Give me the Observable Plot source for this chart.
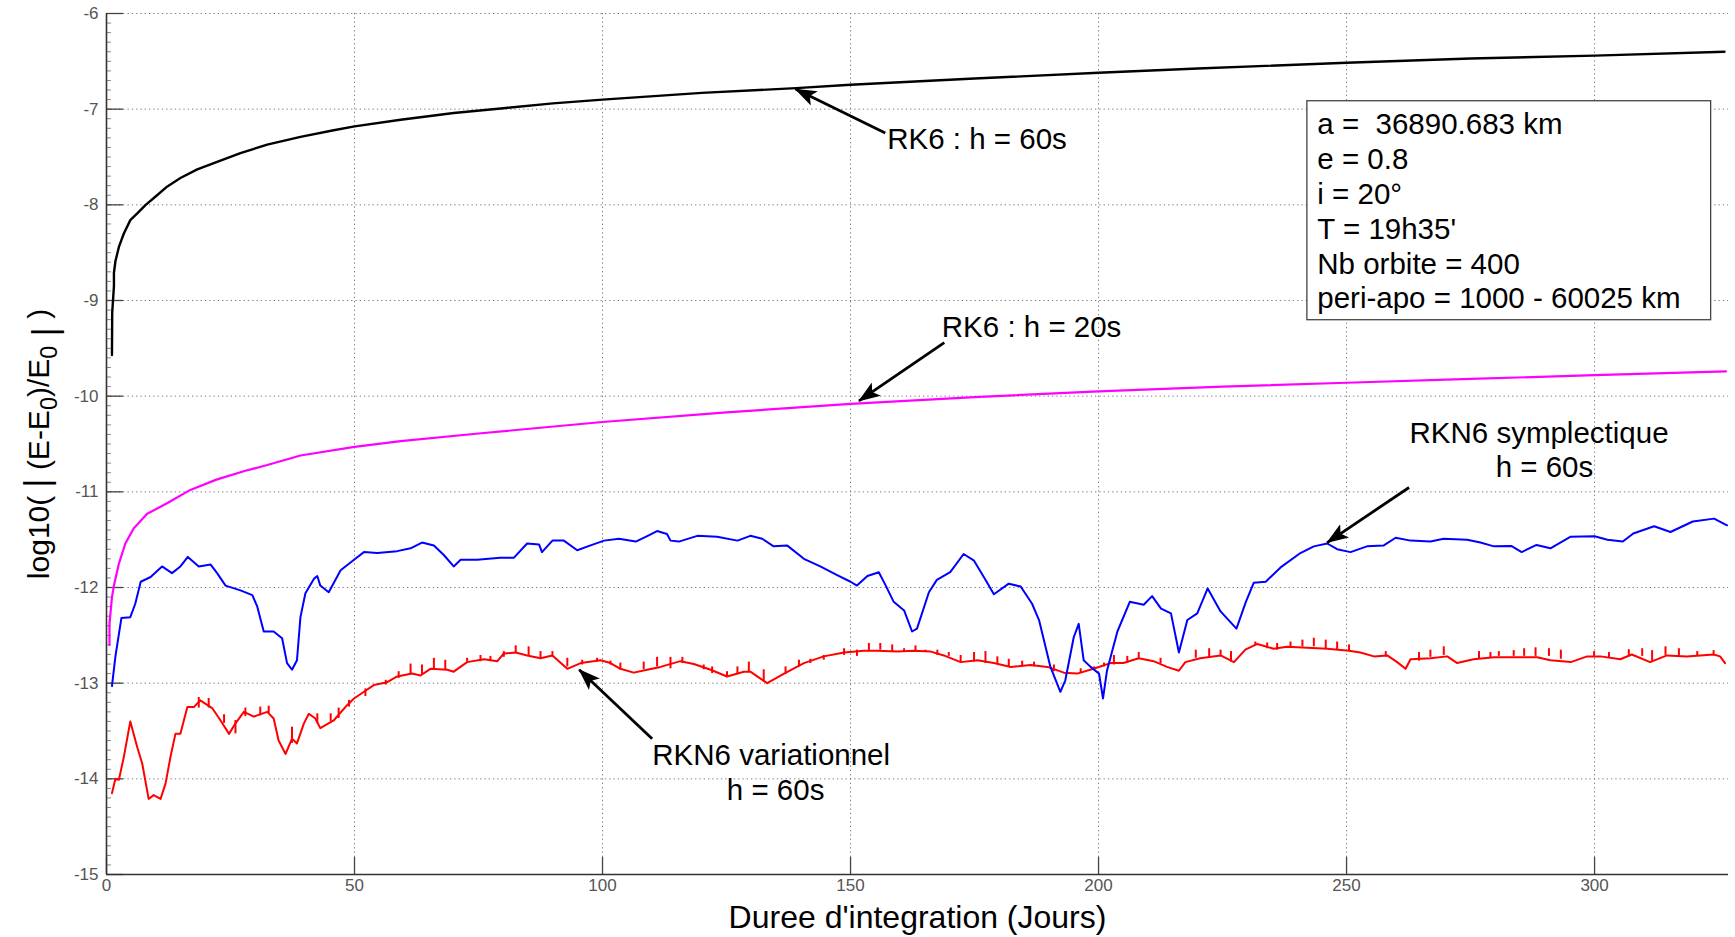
<!DOCTYPE html>
<html><head><meta charset="utf-8">
<script src="https://cdn.jsdelivr.net/npm/d3@7"></script>
<script src="https://cdn.jsdelivr.net/npm/@observablehq/plot@0.6"></script>
<style>html,body{margin:0;padding:0;background:#fff;} svg{display:block}</style>
</head><body><div id="chart"></div>
<script>
const xTicks = [0, 50, 100, 150, 200, 250, 300];
const yTicks = [-15, -14, -13, -12, -11, -10, -9, -8, -7, -6];
const xLabel = "Duree d'integration (Jours)";
const yLabel = "log10( | (E-E0)/E0 | )";

// RK6 : h = 60s (black)
const rk6h60 = [[1.1,-9.57],[1.15,-9.13],[1.5,-8.85],[1.5,-8.71],[1.8,-8.59],[2.5,-8.44],[3.5,-8.30],[4.8,-8.16],[6.2,-8.09],[7.9,-8.00],[10.2,-7.90],[12.2,-7.81],[14.9,-7.72],[18.3,-7.63],[22.3,-7.55],[27,-7.46],[32.4,-7.37],[39.1,-7.29],[45.8,-7.22],[50,-7.18],[59.3,-7.11],[70,-7.04],[80,-6.99],[90,-6.94],[100,-6.9],[120,-6.83],[139,-6.78],[150,-6.745],[175,-6.68],[200,-6.62],[220,-6.575],[250,-6.515],[275,-6.47],[300,-6.44],[326.2,-6.40]];
// RK6 : h = 20s (magenta)
const rk6h20 = [[0.6,-12.60],[0.6,-12.38],[1.1,-12.10],[1.5,-11.98],[2.5,-11.75],[3.8,-11.54],[5.5,-11.38],[8.2,-11.23],[12.2,-11.12],[16.9,-10.98],[22.3,-10.87],[28,-10.78],[32.4,-10.72],[39.1,-10.62],[50,-10.53],[59.3,-10.47],[75,-10.39],[100,-10.27],[125,-10.17],[150,-10.08],[175,-10.01],[200,-9.95],[225,-9.90],[250,-9.86],[275,-9.82],[300,-9.78],[326.5,-9.74]];
// RKN6 symplectique (blue)
const rkn6Sym = [[1.1,-13.03],[1.8,-12.72],[3.0,-12.32],[4.8,-12.31],[5.8,-12.17],[6.9,-11.94],[8.9,-11.89],[11.2,-11.78],[13.2,-11.85],[14.9,-11.78],[16.4,-11.68],[18.6,-11.78],[21.0,-11.76],[22.3,-11.85],[24.0,-11.98],[27.0,-12.03],[29.4,-12.08],[30.4,-12.20],[31.7,-12.46],[33.7,-12.46],[35.4,-12.53],[36.4,-12.79],[37.4,-12.86],[38.4,-12.76],[39.1,-12.31],[40.1,-12.06],[41.8,-11.91],[42.5,-11.88],[43.1,-11.98],[44.8,-12.05],[47.2,-11.82],[49.9,-11.71],[51.9,-11.63],[54.6,-11.64],[58.6,-11.62],[61.3,-11.59],[63.6,-11.53],[66.0,-11.56],[68.0,-11.66],[70.0,-11.78],[71.4,-11.71],[74.7,-11.71],[79.4,-11.69],[82.1,-11.69],[84.8,-11.54],[87.2,-11.55],[87.8,-11.63],[89.9,-11.51],[92.2,-11.51],[94.9,-11.61],[97.6,-11.56],[100.3,-11.51],[103.3,-11.49],[106.7,-11.52],[108.7,-11.47],[111.0,-11.41],[113.0,-11.44],[113.7,-11.51],[115.4,-11.52],[119.1,-11.46],[123.1,-11.47],[127.2,-11.51],[129.8,-11.46],[132.2,-11.49],[134.5,-11.57],[137.2,-11.56],[140.6,-11.70],[143.9,-11.78],[147.3,-11.87],[150.0,-11.94],[151.3,-11.98],[153.4,-11.88],[155.7,-11.84],[157.1,-11.98],[158.7,-12.15],[160.8,-12.24],[162.4,-12.46],[163.4,-12.43],[165.8,-12.05],[167.4,-11.92],[170.1,-11.84],[172.8,-11.65],[174.9,-11.72],[177.2,-11.92],[178.9,-12.07],[181.9,-11.96],[184.3,-11.99],[186.6,-12.17],[188.0,-12.34],[190.3,-12.83],[192.3,-13.09],[193.3,-12.97],[195.0,-12.52],[196.0,-12.38],[197.0,-12.76],[198.4,-12.83],[200.1,-12.90],[200.9,-13.16],[201.7,-12.87],[203.8,-12.46],[206.3,-12.15],[209.1,-12.18],[210.8,-12.09],[212.6,-12.22],[214.6,-12.27],[216.2,-12.68],[217.9,-12.34],[219.9,-12.27],[222.0,-12.01],[224.6,-12.25],[227.8,-12.43],[229.7,-12.15],[231.3,-11.95],[233.7,-11.94],[236.7,-11.79],[240.7,-11.64],[243.4,-11.57],[246.1,-11.54],[248.1,-11.60],[250.8,-11.63],[254.1,-11.57],[257.5,-11.56],[259.9,-11.48],[262.9,-11.51],[266.9,-11.52],[269.6,-11.49],[274.3,-11.50],[277.0,-11.53],[279.7,-11.57],[283.2,-11.565],[285.3,-11.63],[288.3,-11.555],[291.1,-11.59],[295.1,-11.47],[300.0,-11.465],[302.6,-11.50],[305.7,-11.52],[307.8,-11.435],[312.0,-11.36],[315.3,-11.42],[319.8,-11.31],[324.1,-11.28],[326.7,-11.35]];
// RKN6 variationnel (red) - base line
const rkn6Var = [[1.1,-14.15],[1.8,-14.00],[2.5,-14.01],[3.5,-13.77],[4.8,-13.40],[6.2,-13.67],[7.2,-13.84],[8.5,-14.21],[9.5,-14.17],[10.9,-14.21],[11.9,-14.05],[12.9,-13.77],[13.9,-13.53],[14.9,-13.53],[16.3,-13.25],[17.6,-13.25],[18.9,-13.18],[21.3,-13.26],[23.0,-13.39],[24.7,-13.53],[26.0,-13.42],[27.7,-13.30],[29.7,-13.35],[32.4,-13.30],[33.7,-13.37],[34.7,-13.60],[36.1,-13.74],[37.4,-13.58],[38.4,-13.63],[39.8,-13.42],[40.8,-13.32],[42.1,-13.37],[43.1,-13.47],[45.8,-13.39],[48.5,-13.23],[49.9,-13.16],[51.9,-13.09],[53.9,-13.02],[56.6,-12.99],[58.6,-12.93],[61.6,-12.90],[63.3,-12.92],[65.3,-12.85],[68.7,-12.86],[70.0,-12.88],[72.7,-12.78],[76.1,-12.75],[78.8,-12.77],[80.1,-12.69],[82.5,-12.68],[84.8,-12.71],[87.5,-12.74],[89.9,-12.71],[92.9,-12.85],[95.6,-12.79],[99.6,-12.76],[101.6,-12.79],[103.6,-12.85],[106.3,-12.89],[109.0,-12.86],[111.7,-12.83],[115.7,-12.77],[118.4,-12.80],[121.8,-12.86],[125.1,-12.93],[128.5,-12.88],[129.8,-12.88],[133.2,-13.00],[136.6,-12.90],[140.6,-12.79],[144.6,-12.72],[148.7,-12.68],[152.7,-12.66],[155.4,-12.66],[159.4,-12.67],[162.8,-12.66],[166.2,-12.67],[168.8,-12.71],[172.2,-12.78],[175.6,-12.76],[178.9,-12.79],[182.3,-12.83],[186.3,-12.81],[189.7,-12.83],[193.0,-12.89],[195.7,-12.90],[199.0,-12.85],[202.4,-12.79],[205.0,-12.79],[208.1,-12.74],[211.1,-12.77],[213.8,-12.83],[216.2,-12.87],[217.5,-12.78],[220.5,-12.74],[224.6,-12.71],[227.3,-12.78],[229.6,-12.65],[232.0,-12.59],[235.3,-12.64],[238.0,-12.62],[242.1,-12.63],[246.1,-12.64],[250.5,-12.66],[252.8,-12.68],[255.5,-12.72],[258.2,-12.71],[260.2,-12.78],[261.9,-12.85],[262.9,-12.75],[266.9,-12.74],[270.3,-12.72],[272.3,-12.79],[275.6,-12.75],[279.7,-12.73],[283.7,-12.73],[288.4,-12.73],[291.1,-12.76],[295.2,-12.78],[298.5,-12.72],[301.2,-12.72],[305.2,-12.75],[307.5,-12.70],[311.2,-12.78],[314.6,-12.71],[318.6,-12.72],[324.0,-12.70],[325.3,-12.72],[326.3,-12.79]];
// RKN6 variationnel spikes: [day, base, top]
const rkn6VarSpikes = [[18.6,-13.26,-13.15],[20.6,-13.26,-13.16],[23.7,-13.42,-13.33],[26.0,-13.53,-13.39],[28.0,-13.35,-13.26],[31.0,-13.34,-13.25],[32.7,-13.32,-13.24],[37.4,-13.63,-13.46],[42.5,-13.42,-13.32],[45.2,-13.40,-13.32],[46.8,-13.37,-13.26],[48.9,-13.25,-13.18],[52.2,-13.14,-13.06],[56.3,-13.02,-12.97],[58.9,-12.95,-12.88],[61.3,-12.91,-12.80],[63.6,-12.92,-12.81],[66.0,-12.86,-12.74],[68.3,-12.86,-12.76],[72.7,-12.78,-12.74],[75.4,-12.775,-12.71],[77.4,-12.77,-12.72],[80.1,-12.73,-12.67],[82.5,-12.69,-12.61],[85.1,-12.71,-12.62],[87.5,-12.74,-12.67],[89.9,-12.73,-12.67],[92.9,-12.83,-12.74],[95.9,-12.81,-12.76],[98.9,-12.78,-12.74],[101.6,-12.81,-12.77],[103.6,-12.86,-12.79],[108.3,-12.86,-12.78],[111.0,-12.83,-12.73],[113.7,-12.85,-12.73],[116.1,-12.795,-12.73],[120.4,-12.86,-12.81],[122.1,-12.90,-12.83],[125.1,-12.93,-12.88],[127.2,-12.91,-12.83],[129.5,-12.88,-12.78],[132.5,-12.99,-12.86],[136.9,-12.91,-12.83],[139.6,-12.83,-12.76],[141.9,-12.795,-12.75],[144.6,-12.76,-12.71],[148.7,-12.71,-12.64],[151.3,-12.72,-12.655],[153.7,-12.67,-12.585],[156.0,-12.655,-12.585],[158.4,-12.67,-12.60],[160.8,-12.67,-12.64],[163.1,-12.67,-12.61],[165.1,-12.68,-12.655],[167.5,-12.71,-12.655],[169.8,-12.72,-12.68],[172.2,-12.78,-12.71],[174.9,-12.78,-12.68],[177.2,-12.795,-12.67],[179.6,-12.795,-12.725],[181.9,-12.83,-12.75],[184.6,-12.83,-12.77],[187.0,-12.83,-12.78],[191.0,-12.88,-12.81],[196.4,-12.90,-12.85],[199.1,-12.86,-12.83],[201.1,-12.83,-12.79],[203.1,-12.81,-12.71],[205.8,-12.79,-12.72],[208.1,-12.74,-12.68],[212.5,-12.795,-12.74],[219.6,-12.74,-12.655],[222.3,-12.73,-12.64],[224.6,-12.71,-12.655],[226.7,-12.78,-12.67],[231.6,-12.61,-12.57],[234.0,-12.64,-12.58],[236.0,-12.655,-12.585],[238.7,-12.63,-12.57],[241.1,-12.62,-12.55],[243.4,-12.62,-12.53],[245.8,-12.64,-12.55],[248.1,-12.655,-12.57],[250.5,-12.67,-12.60],[257.9,-12.725,-12.67],[264.6,-12.77,-12.68],[266.9,-12.73,-12.655],[269.6,-12.71,-12.62],[276.7,-12.75,-12.67],[279.0,-12.74,-12.68],[280.7,-12.72,-12.67],[283.7,-12.72,-12.66],[285.8,-12.72,-12.64],[288.1,-12.72,-12.63],[290.8,-12.72,-12.64],[293.2,-12.75,-12.655],[299.9,-12.72,-12.67],[302.9,-12.74,-12.68],[306.9,-12.71,-12.65],[309.6,-12.72,-12.64],[311.6,-12.78,-12.66],[314.3,-12.71,-12.62],[317.0,-12.72,-12.64],[320.7,-12.72,-12.67],[324.0,-12.70,-12.66]];

// annotations: [x1, y1, x2, y2] tail -> head
const arrows = [[157.0,-7.25,138.9,-6.79],[168.9,-9.44,151.7,-10.05],[262.6,-10.955,246.1,-11.53],[110.0,-13.58,95.3,-12.86]];
const labelsStart = [{x:157.4, y:-7.32, t:"RK6 : h = 60s"},{x:168.4, y:-9.28, t:"RK6 : h = 20s"}];
const labelsMid = [{x:288.8, y:-10.39, t:"RKN6 symplectique"},{x:289.9, y:-10.75, t:"h = 60s"},{x:134.0, y:-13.76, t:"RKN6 variationnel"},{x:134.9, y:-14.12, t:"h = 60s"}];
const infoLines = ["a = \u00a036890.683 km","e = 0.8","i = 20°","T = 19h35'","Nb orbite = 400","peri-apo = 1000 - 60025 km"];
const infoBox = {x1:242.1, x2:323.5, y1:-6.917, y2:-9.206, tx:244.1, ty:-8.056};

const font = "'Liberation Sans', Arial, Helvetica, sans-serif";
const P = d => d;

const chart = Plot.plot({
  width: 1735, height: 937,
  marginLeft: 106, marginRight: 7, marginTop: 13, marginBottom: 63,
  x: {domain: [0, 327]},
  y: {domain: [-15, -6]},
  style: {fontFamily: font, background: "#fff", overflow: "visible"},
  marks: [
    Plot.gridX(xTicks, {stroke: "#7a7a7a", strokeOpacity: 1, strokeWidth: 1, strokeDasharray: "1.3,3"}),
    Plot.gridY(yTicks, {stroke: "#7a7a7a", strokeOpacity: 1, strokeWidth: 1, strokeDasharray: "1.3,3"}),
    Plot.axisY(d3.range(-15, -5.99, 0.1), {tickSize: -5, text: null, stroke: "#888", label: null}),
    Plot.axisY(yTicks, {tickSize: -17, text: null, stroke: "#444", strokeWidth: 1.3, label: null}),
    Plot.axisY(yTicks, {tickSize: 0, tickPadding: 8, fontSize: 17, fill: "#555", label: null, tickFormat: d => String(d).replace("\u2212", "-")}),
    Plot.axisX(xTicks, {tickSize: -17, text: null, stroke: "#444", strokeWidth: 1.3, label: null}),
    Plot.axisX(xTicks, {tickSize: 0, tickPadding: 4, fontSize: 17, fill: "#555", label: null}),
    Plot.ruleX([0], {stroke: "#333", strokeWidth: 1.6}),
    Plot.ruleY([-15], {stroke: "#333", strokeWidth: 1.6}),
    Plot.rect([infoBox], {x1: "x1", x2: "x2", y1: "y1", y2: "y2", fill: "#fff", stroke: "#444", strokeWidth: 1.3}),
    Plot.text([infoLines.join("\n")], {x: () => infoBox.tx, y: () => infoBox.ty, text: P, textAnchor: "start", lineAnchor: "middle", lineHeight: 1.18, fontSize: 29.5, fill: "#000"}),
    Plot.line(rk6h60, {x: d => d[0], y: d => d[1], stroke: "#000", strokeWidth: 2.4}),
    Plot.line(rk6h20, {x: d => d[0], y: d => d[1], stroke: "#ff00ff", strokeWidth: 2.2}),
    Plot.line(rkn6Var, {x: d => d[0], y: d => d[1], stroke: "#ff0000", strokeWidth: 2}),
    Plot.ruleX(rkn6VarSpikes, {x: d => d[0], y1: d => d[1], y2: d => d[2], stroke: "#ff0000", strokeWidth: 2}),
    Plot.line(rkn6Sym, {x: d => d[0], y: d => d[1], stroke: "#0000ff", strokeWidth: 2}),
    Plot.link(arrows, {x1: d => d[0], y1: d => d[1], x2: d => d[2], y2: d => d[3], stroke: "#010101", strokeWidth: 2.8}),
    Plot.text(labelsStart, {x: "x", y: "y", text: "t", textAnchor: "start", fontSize: 29.5, fill: "#000"}),
    Plot.text(labelsMid, {x: "x", y: "y", text: "t", textAnchor: "middle", fontSize: 29.5, fill: "#000"}),
    Plot.text([xLabel], {frameAnchor: "bottom", dy: 53, text: P, textAnchor: "middle", fontSize: 32, fill: "#000"}),
    Plot.text([yLabel], {frameAnchor: "left", dx: -67, rotate: -90, text: P, textAnchor: "middle", fontSize: 30, fill: "#000"})
  ]
});
document.getElementById("chart").appendChild(chart);

// filled arrowheads on the annotation links
const svg = d3.select(chart);
svg.append("defs").append("marker")
  .attr("id", "annotHead").attr("viewBox", "0 0 22 16")
  .attr("refX", 21).attr("refY", 8)
  .attr("markerWidth", 22).attr("markerHeight", 16)
  .attr("markerUnits", "userSpaceOnUse").attr("orient", "auto")
  .append("path").attr("d", "M0,0 L22,8 L0,16 L5,8 Z").attr("fill", "#000");
svg.selectAll('g[aria-label="link"] path, g[aria-label="link"] line').attr("marker-end", "url(#annotHead)");

// rebuild y label with subscripts
svg.selectAll("text").filter(function() { return this.textContent === yLabel; }).each(function() {
  const t = d3.select(this);
  t.text(null);
  const parts = [["log10( ", 0], ["|", "bar"], [" (E-E", 0], ["0", 1], [")/E", -1], ["0", 1], [" |", "bar"], [" )", -1]];
  let shifted = false;
  parts.forEach(([s, k]) => {
    const sp = t.append("tspan").text(s);
    if (k === 1) { sp.attr("dy", "0.32em").attr("font-size", "0.78em"); shifted = true; }
    else if (k === -1 && shifted) { sp.attr("dy", "-0.25em"); shifted = false; }
    if (k === "bar") sp.attr("font-size", "1.15em");
  });
});
</script>
</body></html>
